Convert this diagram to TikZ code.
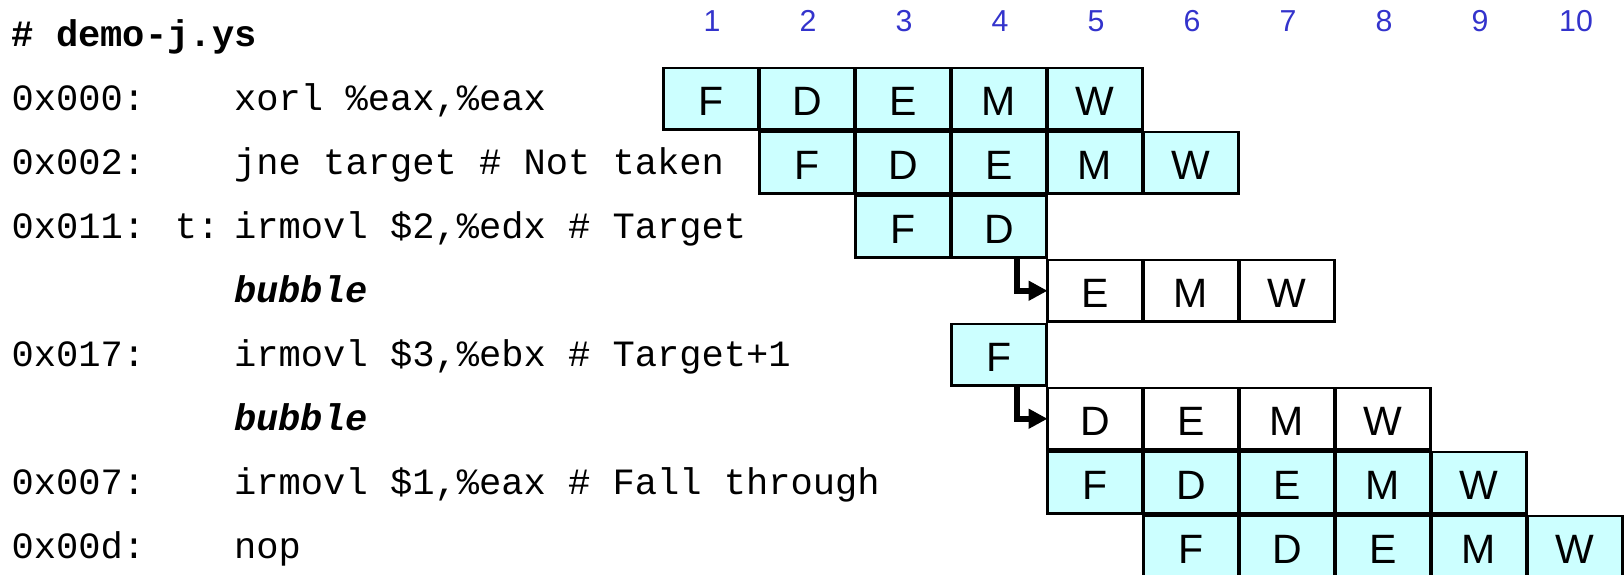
\documentclass[tikz,border=0pt]{standalone}
\usepackage{fontspec}
\setmainfont{Liberation Sans}
\newfontfamily\codefont{Liberation Mono}
\usetikzlibrary{arrows.meta}
\definecolor{stagefill}{HTML}{CCFFFF}
\definecolor{cyclenum}{HTML}{3333CC}
\begin{document}
\begin{tikzpicture}[x=1pt,y=-1pt,
  stagebox/.style={draw=black, line width=2.8pt, minimum width=95pt, minimum height=61.5pt,
    inner sep=0pt, outer sep=0pt, font=\fontsize{41}{41}\selectfont, text height=33pt, text depth=0pt},
  cybox/.style={stagebox, fill=stagefill},
  whbox/.style={stagebox, fill=white},
  cycle/.style={anchor=base, inner sep=0pt, text=cyclenum, font=\fontsize{30.3}{30.3}\selectfont},
  code/.style={anchor=base west, inner sep=0pt, font=\codefont\fontsize{37.1}{37.1}\selectfont},
  flow/.style={line width=6pt, line join=miter, -{Triangle[length=19pt,width=19pt]}}
]
\useasboundingbox (0,0) rectangle (1624,575);
% cycle numbers
\foreach \k in {1,...,10}
  \node[cycle] (n\k) at ({712+96*(\k-1)}, 31.7) {\k};
% code
\node[code] (hdr) at (11.5, 46.7) {\bfseries \# demo-j.ys};
\node[code] (a1) at (11.5, 110.7) {0x000:};
\node[code] (i1) at (234, 110.7) {xorl \%eax,\%eax};
\node[code] (a2) at (11.5, 174.7) {0x002:};
\node[code] (i2) at (234, 174.7) {jne target \# Not taken};
\node[code] (a3) at (11.5, 238.7) {0x011: t:};
\node[code] (i3) at (234, 238.7) {irmovl \$2,\%edx \# Target};
\node[code] (i4) at (234, 302.7) {\bfseries\itshape bubble};
\node[code] (a5) at (11.5, 366.7) {0x017:};
\node[code] (i5) at (234, 366.7) {irmovl \$3,\%ebx \# Target+1};
\node[code] (i6) at (234, 430.7) {\bfseries\itshape bubble};
\node[code] (a7) at (11.5, 494.7) {0x007:};
\node[code] (i7) at (234, 494.7) {irmovl \$1,\%eax \# Fall through};
\node[code] (a8) at (11.5, 558.7) {0x00d:};
\node[code] (i8) at (234, 558.7) {nop};
% pipeline stages
\foreach \r/\c/\t in {1/1/F,1/2/D,1/3/E,1/4/M,1/5/W,
                      2/2/F,2/3/D,2/4/E,2/5/M,2/6/W,
                      3/3/F,3/4/D,
                      5/4/F,
                      7/5/F,7/6/D,7/7/E,7/8/M,7/9/W,
                      8/6/F,8/7/D,8/8/E,8/9/M,8/10/W}
  \node[cybox] (r\r-\c) at ({711+96*(\c-1)}, {98.75+64*(\r-1)}) {\t};
\foreach \r/\c/\t in {4/5/E,4/6/M,4/7/W,
                      6/5/D,6/6/E,6/7/M,6/8/W}
  \node[whbox] (r\r-\c) at ({711+96*(\c-1)}, {98.75+64*(\r-1)}) {\t};
% stall arrows
\draw[flow] ([xshift=18.3pt,yshift=-1.5pt]r3-4.south) |- (r4-5);
\draw[flow] ([xshift=18.3pt,yshift=-1.5pt]r5-4.south) |- (r6-5);
\end{tikzpicture}
\end{document}
